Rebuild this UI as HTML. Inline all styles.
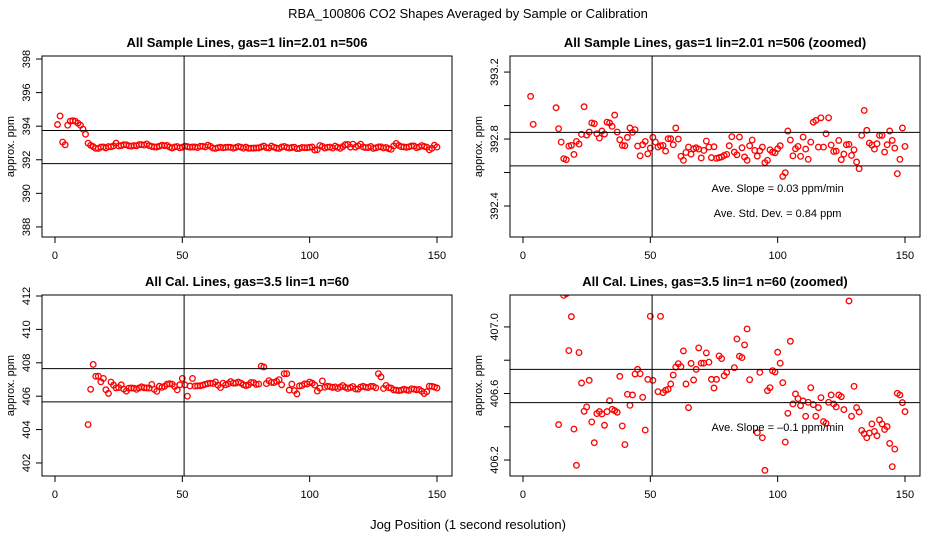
<!DOCTYPE html>
<html><head><meta charset="utf-8">
<style>
html,body{margin:0;padding:0;width:936px;height:540px;overflow:hidden;background:#fff;}
svg{display:block;font-family:"Liberation Sans",sans-serif;}
</style></head>
<body>
<svg id="c" width="936" height="540"></svg>
<script>
const sampleX=[1,2,3,4,5,6,7,8,9,10,11,12,13,14,15,16,17,18,19,20,21,22,23,24,25,26,27,28,29,30,31,32,33,34,35,36,37,38,39,40,41,42,43,44,45,46,47,48,49,50,51,52,53,54,55,56,57,58,59,60,61,62,63,64,65,66,67,68,69,70,71,72,73,74,75,76,77,78,79,80,81,82,83,84,85,86,87,88,89,90,91,92,93,94,95,96,97,98,99,100,101,102,103,104,105,106,107,108,109,110,111,112,113,114,115,116,117,118,119,120,121,122,123,124,125,126,127,128,129,130,131,132,133,134,135,136,137,138,139,140,141,142,143,144,145,146,147,148,149,150];
const sampleY=[394.1,394.61,393.055,392.888,394.06,394.3,394.33,394.3,394.18,394.06,393.82,393.52,392.987,392.862,392.782,392.683,392.677,392.758,392.762,392.708,392.786,392.770,392.828,392.993,392.824,392.842,392.896,392.892,392.832,392.806,392.848,392.830,392.901,392.896,392.876,392.943,392.842,392.796,392.762,392.760,392.810,392.866,392.840,392.856,392.758,392.700,392.766,392.786,392.712,392.746,392.810,392.782,392.752,392.760,392.762,392.728,392.802,392.802,392.766,392.866,392.800,392.697,392.673,392.720,392.752,392.710,392.742,392.748,392.740,392.687,392.732,392.788,392.752,392.689,392.754,392.685,392.689,392.693,392.702,392.708,392.760,392.814,392.722,392.706,392.812,392.748,392.693,392.673,392.760,392.794,392.732,392.698,392.730,392.752,392.659,392.673,392.736,392.722,392.718,392.742,392.760,392.577,392.599,392.848,392.794,392.700,392.742,392.756,392.697,392.812,392.740,392.679,392.782,392.901,392.911,392.752,392.927,392.752,392.832,392.927,392.764,392.726,392.728,392.792,392.677,392.710,392.766,392.768,392.702,392.736,392.663,392.623,392.822,392.971,392.852,392.776,392.764,392.740,392.772,392.822,392.822,392.722,392.766,392.848,392.792,392.746,392.593,392.679,392.866,392.756];
const calX=[13,14,15,16,17,18,19,20,21,22,23,24,25,26,27,28,29,30,31,32,33,34,35,36,37,38,39,40,41,42,43,44,45,46,47,48,49,50,51,52,53,54,55,56,57,58,59,60,61,62,63,64,65,66,67,68,69,70,71,72,73,74,75,76,77,78,79,80,81,82,83,84,85,86,87,88,89,90,91,92,93,94,95,96,97,98,99,100,101,102,103,104,105,106,107,108,109,110,111,112,113,114,115,116,117,118,119,120,121,122,123,124,125,126,127,128,129,130,131,132,133,134,135,136,137,138,139,140,141,142,143,144,145,146,147,148,149,150];
const calY=[404.3,406.413,407.9,407.19,407.2,406.858,407.062,406.386,406.168,406.846,406.663,406.493,406.519,406.679,406.429,406.304,406.479,406.491,406.477,406.409,406.491,406.557,406.505,406.497,406.487,406.703,406.405,406.293,406.595,406.529,406.591,406.717,406.745,406.719,406.577,406.380,406.685,407.064,406.679,406.0,406.611,407.064,406.605,406.619,406.625,406.657,406.711,406.759,406.779,406.761,406.856,406.657,406.515,406.781,406.681,406.745,406.874,406.782,406.782,406.844,406.788,406.685,406.633,406.685,406.826,406.810,406.707,406.727,407.8,407.75,406.755,406.928,406.824,406.816,406.892,406.988,406.683,407.35,407.35,406.364,406.727,406.334,406.138,406.617,406.635,406.737,406.729,406.848,406.782,406.665,406.308,406.481,406.914,406.537,406.597,406.569,406.527,406.555,406.463,406.547,406.635,406.533,406.463,406.515,406.575,406.431,406.421,406.547,406.591,406.537,406.519,406.591,406.581,406.503,407.35,407.156,406.463,406.643,406.515,406.489,406.378,406.358,406.334,406.362,406.417,406.372,406.346,406.441,406.417,406.384,406.401,406.300,406.160,406.266,406.601,406.591,406.545,406.491];
const xTicks=[0,50,100,150];
const tlTicks=[388,390,392,394,396,398];
const trTicks=[392.4,392.6,392.8,393.0,393.2];
const trLabels=["392.4","","392.8","","393.2"];
const blTicks=[402,404,406,408,410,412];
const brTicks=[406.2,406.4,406.6,406.8,407.0];
const brLabels=["406.2","","406.6","","407.0"];
const sampleBands=[393.74,391.77];
const sampleBandsZ=[392.84,392.64];
const calBands=[407.65,405.66];
const calBandsZ=[406.745,406.545];
const vLine=50.7;

const NS="http://www.w3.org/2000/svg";
const svg=document.getElementById('c');
function el(tag,attrs,parent){const e=document.createElementNS(NS,tag);for(const k in attrs)e.setAttribute(k,attrs[k]);(parent||svg).appendChild(e);return e;}
function txt(s,attrs,parent){const t=el('text',attrs,parent);t.textContent=s;return t;}

let t=txt("RBA_100806  CO2 Shapes Averaged by Sample or Calibration",{x:468,y:18,'text-anchor':'middle','font-size':13,'xml:space':'preserve'});


t=txt("Jog Position (1 second resolution)",{x:468,y:529,'text-anchor':'middle','font-size':13});



function panel(o){
  const g=el('g',{});
  
  
  const L=o.x0,R=o.x0+410,T=o.y0,B=o.y1;
  const xs=v=>L+(v-(-5.1))/(155.9-(-5.1))*(R-L);
  const ys=v=>B-(v-o.ymin)/(o.ymax-o.ymin)*(B-T);
  t=txt(o.title,{x:(L+R)/2,y:T-9,'text-anchor':'middle','font-size':13,'font-weight':'bold'},g);
  
  
  const cid='clip'+o.name;
  const cp=el('clipPath',{id:cid},g);el('rect',{x:L,y:T,width:R-L,height:B-T},cp);
  xTicks.forEach(v=>{
    const ln=el('line',{x1:xs(v),x2:xs(v),y1:B,y2:B+6,stroke:'#000'},g);
    
    
    const tt=txt(String(v),{x:xs(v),y:B+22,'text-anchor':'middle','font-size':11},g);
    
    
  });
  o.yt.forEach((v,i)=>{
    const ln=el('line',{x1:L-6,x2:L,y1:ys(v),y2:ys(v),stroke:'#000'},g);
    
    
    const lab=o.yl?o.yl[i]:String(v);
    if(lab){const tt=txt(lab,{x:0,y:0,'text-anchor':'middle','font-size':11,transform:`translate(${L-12},${ys(v)}) rotate(-90)`},g);
    
    }
  });
  t=txt("approx. ppm",{x:0,y:0,'text-anchor':'middle','font-size':11,transform:`translate(${L-28},${(T+B)/2}) rotate(-90)`},g);
  
  
  const pg=el('g',{'clip-path':`url(#${cid})`},g);
  
  
  o.X.forEach((xv,i)=>{
    const c=el('circle',{cx:xs(xv),cy:ys(o.Y[i]),r:2.8,fill:'none',stroke:'#f00','stroke-width':1.3},pg);
    
    
  });
  o.bands.forEach(v=>{
    const ln=el('line',{x1:L,x2:R,y1:ys(v),y2:ys(v),stroke:'#000'},g);
    
    
  });
  const vl=el('line',{x1:xs(vLine),x2:xs(vLine),y1:T,y2:B,stroke:'#000'},g);
  
  
  const fr=el('rect',{x:L,y:T,width:R-L,height:B-T,fill:'none',stroke:'#000'},g);
  
  
  (o.notes||[]).forEach(n=>{
    const tt=txt(n[0],{x:xs(n[1]),y:n[2],'text-anchor':'middle','font-size':11,'xml:space':'preserve'},g);
    
    
  });
}
panel({name:'sample-panel',title:'All Sample Lines, gas=1 lin=2.01 n=506',x0:42,y0:56,y1:237,ymin:387.40,ymax:398.18,yt:tlTicks,X:sampleX,Y:sampleY,bands:sampleBands});
panel({name:'sample-zoomed-panel',title:'All Sample Lines, gas=1 lin=2.01 n=506 (zoomed)',x0:510,y0:56,y1:237,ymin:392.215,ymax:393.296,yt:trTicks,yl:trLabels,X:sampleX,Y:sampleY,bands:sampleBandsZ,
  notes:[["Ave. Slope =  0.03  ppm/min",100,192],["Ave. Std. Dev. =  0.84  ppm",100,217]]});
panel({name:'cal-panel',title:'All Cal. Lines, gas=3.5 lin=1 n=60',x0:42,y0:295,y1:476,ymin:401.22,ymax:412.06,yt:blTicks,X:calX,Y:calY,bands:calBands});
panel({name:'cal-zoomed-panel',title:'All Cal. Lines, gas=3.5 lin=1 n=60 (zoomed)',x0:510,y0:295,y1:476,ymin:406.104,ymax:407.192,yt:brTicks,yl:brLabels,X:calX,Y:calY,bands:calBandsZ,
  notes:[["Ave. Slope =  \u20130.1  ppm/min",100,431]]});
</script>
</body></html>
